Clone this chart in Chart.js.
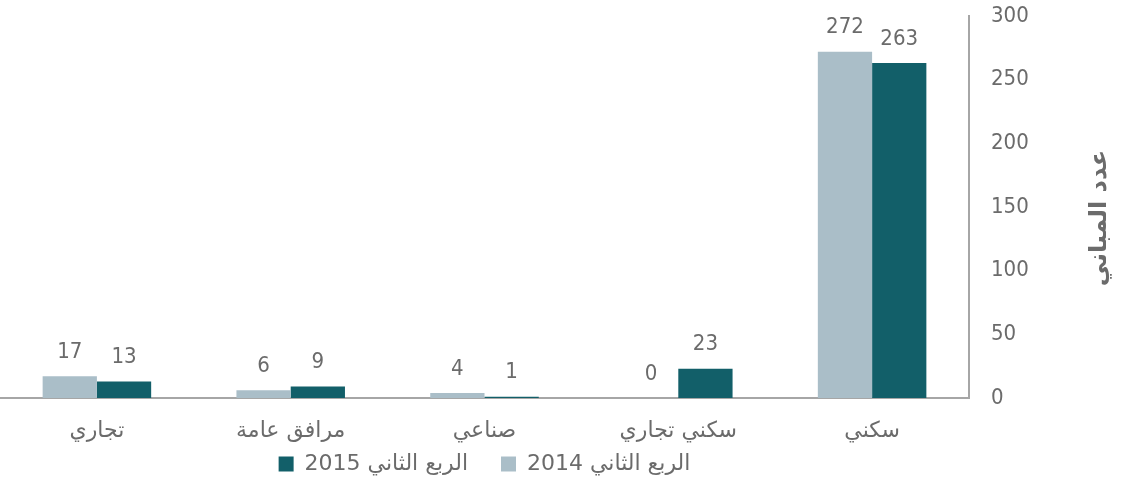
<!DOCTYPE html>
<html><head><meta charset="utf-8">
<script src="https://cdn.jsdelivr.net/npm/chart.js@4.4.1/dist/chart.umd.min.js"></script>
<style>html,body{margin:0;padding:0;background:#fff}#wrap{width:1123px;height:485px;position:relative}</style>
</head><body><div id="wrap"><canvas id="c"></canvas></div>
<script>
const categories = ['تجاري', 'مرافق عامة', 'صناعي', 'سكني تجاري', 'سكني'];
const series2014 = [17, 6, 4, 0, 272];
const series2015 = [13, 9, 1, 23, 263];
const seriesNames = ['الربع الثاني 2014', 'الربع الثاني 2015'];
const yTicks = [0, 50, 100, 150, 200, 250, 300];
const axisTitle = 'عدد المباني';

const NUMFONT = "'DejaVu Sans Condensed', 'DejaVu Sans', sans-serif";
const ARFONT = "'DejaVu Sans', sans-serif";
const TEXT = '#6b6b6b';

const valueLabels = {
  id: 'valueLabels',
  afterDatasetsDraw(chart) {
    const ctx = chart.ctx;
    ctx.save();
    ctx.font = '22px ' + NUMFONT;
    ctx.fillStyle = TEXT;
    ctx.textAlign = 'center';
    ctx.textBaseline = 'middle';
    chart.data.datasets.forEach((ds, i) => {
      chart.getDatasetMeta(i).data.forEach((bar, j) => {
        ctx.fillText(String(ds.data[j]), bar.x, bar.y - 24);
      });
    });
    ctx.restore();
  }
};
const yTitle = {
  id: 'yTitle',
  afterDraw(chart) {
    const ctx = chart.ctx;
    ctx.save();
    ctx.translate(1100, 218);
    ctx.rotate(-Math.PI / 2);
    ctx.font = 'bold 24px ' + ARFONT;
    ctx.fillStyle = TEXT;
    ctx.textAlign = 'center';
    ctx.textBaseline = 'middle';
    ctx.direction = 'rtl';
    ctx.fillText(axisTitle, 0, 0);
    ctx.restore();
  }
};
const layoutFix = {
  id: 'layoutFix',
  afterLayout(chart) {
    chart.scales.x.bottom = chart.height;
    chart.legend.left = chart.chartArea.left;
    chart.legend.right = chart.chartArea.right;
  }
};

new Chart(document.getElementById('c'), {
  type: 'bar',
  data: {
    labels: categories,
    datasets: [
      { label: seriesNames[0], data: series2014, backgroundColor: '#aabec8', categoryPercentage: 0.56, barPercentage: 1.0 },
      { label: seriesNames[1], data: series2015, backgroundColor: '#125f69', categoryPercentage: 0.56, barPercentage: 1.0 }
    ]
  },
  options: {
    responsive: true,
    maintainAspectRatio: false,
    animation: false,
    layout: { padding: { top: 16, left: 0, right: 0, bottom: 0 } },
    plugins: {
      legend: {
        position: 'bottom',
        reverse: true,
        textDirection: 'rtl',
        labels: {
          font: { family: ARFONT, size: 22 },
          color: TEXT,
          boxWidth: 15,
          boxHeight: 15,
          padding: 33,
          useBorderRadius: false
        }
      },
      tooltip: { enabled: false }
    },
    scales: {
      x: {
        afterFit(scale) { scale.height = 22; },
        grid: { display: false, drawTicks: false },
        border: { display: true, color: '#a6a6a6', width: 2 },
        ticks: { font: { family: ARFONT, size: 22 }, color: TEXT, padding: 20 }
      },
      y: {
        position: 'right',
        min: 0, max: 300,
        afterBuildTicks(scale) { scale.ticks = yTicks.map(v => ({ value: v })); },
        afterFit(scale) { scale.width = 154; scale.paddingTop = 0; scale.paddingBottom = 0; },
        grid: { display: false, drawTicks: false },
        border: { display: true, color: '#a6a6a6', width: 2 },
        ticks: { font: { family: NUMFONT, size: 22 }, color: TEXT, padding: 22 }
      }
    }
  },
  plugins: [valueLabels, yTitle, layoutFix]
});
</script></body></html>
